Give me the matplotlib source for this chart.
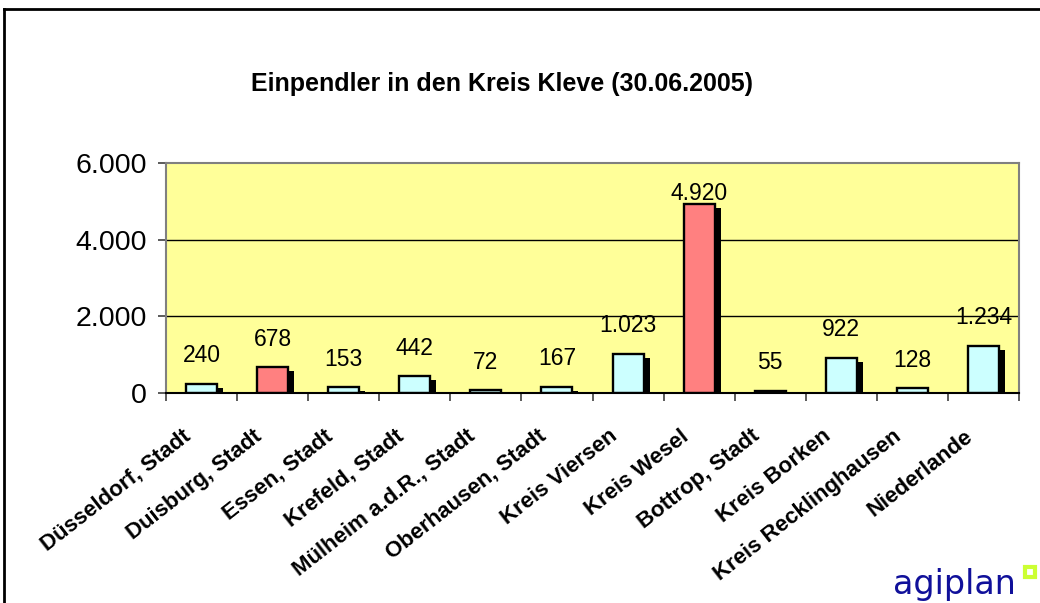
import matplotlib.pyplot as plt
from matplotlib.lines import Line2D
from matplotlib.patches import Rectangle
from matplotlib.ticker import FixedLocator, FuncFormatter

plt.rcParams['font.family'] = ['Liberation Sans', 'DejaVu Sans']

# Daten: Einpendler in den Kreis Kleve (30.06.2005)
regions = [
    'Düsseldorf, Stadt', 'Duisburg, Stadt', 'Essen, Stadt', 'Krefeld, Stadt',
    'Mülheim a.d.R., Stadt', 'Oberhausen, Stadt', 'Kreis Viersen', 'Kreis Wesel',
    'Bottrop, Stadt', 'Kreis Borken', 'Kreis Recklinghausen', 'Niederlande',
]
commuters = [240, 678, 153, 442, 72, 167, 1023, 4920, 55, 922, 128, 1234]
highlighted = ['Duisburg, Stadt', 'Kreis Wesel']
y_ticks = [0, 2000, 4000, 6000]

W, H, DPI = 1040, 603, 100
fig = plt.figure(figsize=(W / DPI, H / DPI), dpi=DPI)
fig.patch.set_facecolor('white')

ax = fig.add_axes([166 / W, 1 - 393 / H, (1019 - 166) / W, (393 - 163) / H])
ax.set_facecolor('#FFFF99')
ax.set_xlim(-0.5, len(regions) - 0.5)
ax.set_ylim(0, 6000)

# px -> Dateneinheiten
px_x = (len(regions)) / (1019 - 166)
px_y = 6000 / (393 - 163)
bar_w = 31 * px_x
sh_dx, sh_dy = 6 * px_x, 4 * px_y

for i, (name, val) in enumerate(zip(regions, commuters)):
    sh_h = max(val - sh_dy, 0)
    ax.bar(i + sh_dx, sh_h, width=bar_w, color='black', linewidth=0, zorder=2)
    face = '#FF8080' if name in highlighted else '#CCFFFF'
    ax.bar(i, val, width=bar_w, color=face, edgecolor='black', linewidth=1.7, zorder=3)
    off = 11 if val > 4000 else 28
    ax.annotate(f'{val:,}'.replace(',', '.'), (i, val), xytext=(0, off),
                textcoords='offset pixels', ha='center', va='center',
                fontsize=16.5, zorder=4)

# Gitter
ax.yaxis.set_major_locator(FixedLocator(y_ticks))
ax.yaxis.set_major_formatter(FuncFormatter(lambda v, p: f'{int(v):,}'.replace(',', '.')))
for y in y_ticks[1:-1]:
    ax.axhline(y, color='black', linewidth=1, zorder=1)

for side in ['left', 'right', 'top']:
    ax.spines[side].set_color('#808080')
    ax.spines[side].set_linewidth(1.5)
ax.spines['bottom'].set_color('black')
ax.spines['bottom'].set_linewidth(1.5)
ax.spines['bottom'].set_zorder(5)

ax.tick_params(axis='y', direction='out', length=6, width=1.2, color='#404040',
               labelsize=20.5, pad=8)
ax.set_xticks([i + 0.5 for i in range(-1, len(regions))])
ax.tick_params(axis='x', direction='out', length=6, width=1.2, color='#404040',
               labelbottom=False)

# gedrehte Kategorienbeschriftungen
for i, name in enumerate(regions):
    ax.annotate(name, (i, 0), xytext=(-13, -41), textcoords='offset pixels',
                rotation=38, rotation_mode='anchor', ha='right', va='center',
                fontsize=16, fontweight='bold', annotation_clip=False)

fig.text(502 / W, 1 - 84 / H, 'Einpendler in den Kreis Kleve (30.06.2005)',
         ha='center', va='center', fontsize=18, fontweight='bold')

# Rahmen
fig.add_artist(Line2D([4 / W, 4 / W], [0, 1 - 9 / H], color='black', linewidth=2,
                      transform=fig.transFigure))
fig.add_artist(Line2D([4 / W, 1], [1 - 9 / H, 1 - 9 / H], color='black', linewidth=2,
                      transform=fig.transFigure))

# Logo
fig.text(893 / W, 1 - 594 / H, 'agiplan', ha='left', va='baseline',
         fontsize=24, color='#10109A', family='DejaVu Sans')
fig.add_artist(Rectangle((1025 / W, 1 - 577 / H), 10 / W, 10 / H, fill=False,
                         edgecolor='#CCFF33', linewidth=3, transform=fig.transFigure))

fig.savefig('out.png', dpi=DPI)
